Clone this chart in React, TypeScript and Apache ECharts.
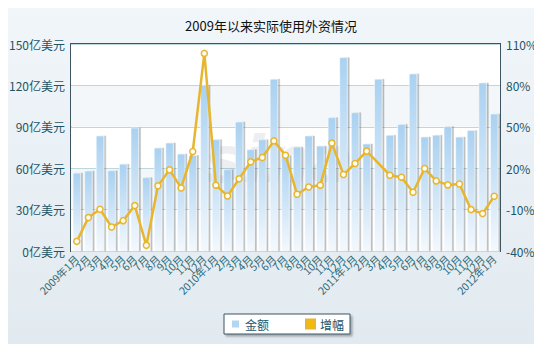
import React, { useEffect, useRef } from "react";
import * as echarts from "echarts";

const categories = [
  "2009年1月", "2月", "3月", "4月", "5月", "6月", "7月", "8月", "9月", "10月", "11月", "12月",
  "2010年1月", "2月", "3月", "4月", "5月", "6月", "7月", "8月", "9月", "10月", "11月", "12月",
  "2011年1月", "2月", "3月", "4月", "5月", "6月", "7月", "8月", "9月", "10月", "11月", "12月",
  "2012年1月",
];

const amount = [
  56.6, 58.1, 83.5, 58.3, 63.1, 89.3, 53.3, 74.8, 78.4, 70.4, 69.4, 120.3,
  80.8, 59.1, 93.6, 73.6, 80.8, 124.6, 69.3, 75.5, 83.5, 76.2, 96.8, 140.3,
  100.4, 77.7, 124.6, 84.0, 91.9, 128.5, 82.7, 84.1, 90.3, 82.7, 87.4, 121.9,
  99.4,
];

const growth: (number | null)[] = [
  -33.0, -15.8, -9.7, -22.6, -18.0, -7.1, -35.9, 7.2, 18.8, 5.7, 32.1, 103.2,
  7.7, -0.1, 12.3, 24.6, 27.8, 39.8, 29.4, 1.1, 6.4, 7.7, 38.2, 15.4,
  23.4, 32.4, null, 14.9, 13.5, 2.6, 19.8, 10.8, 7.9, 8.6, -10.0, -12.9,
  -0.3,
];

const FONT = "'Noto Sans CJK SC', 'Noto Sans', sans-serif";
const TEXT = "#1d5566";

export default function App() {
  const ref = useRef<HTMLDivElement>(null);
  useEffect(() => {
    if (!ref.current) return;
    const chart = echarts.init(ref.current, null, { renderer: "svg" });
    chart.setOption({
      animation: false,
      backgroundColor: new echarts.graphic.LinearGradient(0, 0, 0, 1, [
        { offset: 0, color: "#f1f6fa" },
        { offset: 1, color: "#e1eaf0" },
      ]),
      title: {
        text: "2009年以来实际使用外资情况",
        left: "center",
        top: 14,
        textStyle: { fontFamily: FONT, fontSize: 13, fontWeight: "normal", color: "#111" },
      },
      graphic: [
        {
          type: "text",
          left: 205,
          top: 128,
          z: 1,
          style: {
            text: "sina",
            font: "italic bold 64px 'DejaVu Sans', sans-serif",
            fill: "rgba(110,125,150,0.13)",
          },
        },
      ],
      legend: {
        top: 314,
        left: 224,
        itemWidth: 9,
        itemHeight: 9,
        itemGap: 36,
        padding: [4, 6, 4, 6],
        backgroundColor: "#ffffff",
        borderColor: "#3d5560",
        borderWidth: 1,
        shadowColor: "rgba(0,0,0,0.3)",
        shadowOffsetX: 2,
        shadowOffsetY: 2,
        shadowBlur: 2,
        textStyle: { fontFamily: FONT, fontSize: 12, color: TEXT },
        data: [
          { name: "金额", icon: "rect", itemStyle: { color: "#b3d6f2" } },
          { name: "增幅", icon: "rect", itemStyle: { color: "#f5b90a" } },
        ],
      },
      grid: {
        left: 71,
        right: 42,
        top: 44,
        bottom: 101,
        show: true,
        borderColor: "#3d5560",
        borderWidth: 2,
        backgroundColor: "#ffffff",
      },
      xAxis: {
        type: "category",
        data: categories,
        axisLine: { show: false },
        axisTick: { show: false },
        axisLabel: {
          interval: 0,
          rotate: 45,
          margin: 6,
          fontFamily: FONT,
          fontSize: 10.5,
          color: "#2f6a78",
        },
      },
      yAxis: [
        {
          type: "value",
          min: 0,
          max: 150,
          interval: 30,
          axisLine: { show: false },
          axisTick: { show: false },
          axisLabel: {
            formatter: "{value}亿美元",
            fontFamily: FONT,
            fontSize: 12,
            color: TEXT,
            margin: 6,
          },
          splitLine: { lineStyle: { color: "#bcd7de", width: 1 } },
          splitArea: { show: true, areaStyle: { color: ["#ffffff", "#f3f7f9"] } },
        },
        {
          type: "value",
          min: -40,
          max: 110,
          interval: 30,
          axisLine: { show: false },
          axisTick: { show: false },
          axisLabel: {
            formatter: "{value}%",
            fontFamily: FONT,
            fontSize: 12,
            color: TEXT,
            margin: 6,
          },
          splitLine: { show: false },
        },
      ],
      series: [
        {
          name: "金额",
          type: "bar",
          data: amount,
          barWidth: 8,
          yAxisIndex: 0,
          z: 2,
          itemStyle: {
            color: new echarts.graphic.LinearGradient(0, 0, 0, 1, [
              { offset: 0, color: "#a9d1f1" },
              { offset: 1, color: "#f3f8fd" },
            ]),
            borderColor: "#ffffff",
            borderWidth: 0.5,
            shadowColor: "rgba(60,70,80,0.35)",
            shadowOffsetX: 2,
            shadowOffsetY: 0,
            shadowBlur: 1,
          },
        },
        {
          name: "增幅",
          type: "line",
          data: growth,
          yAxisIndex: 1,
          connectNulls: true,
          z: 3,
          symbol: "circle",
          symbolSize: 6,
          lineStyle: { color: "#e8b62e", width: 2.5 },
          itemStyle: { color: "#fffdf0", borderColor: "#e8b62e", borderWidth: 1.5 },
        },
      ],
    });
    return () => chart.dispose();
  }, []);
  return <div ref={ref} style={{ width: 542, height: 352, margin: -8 }} />;
}
